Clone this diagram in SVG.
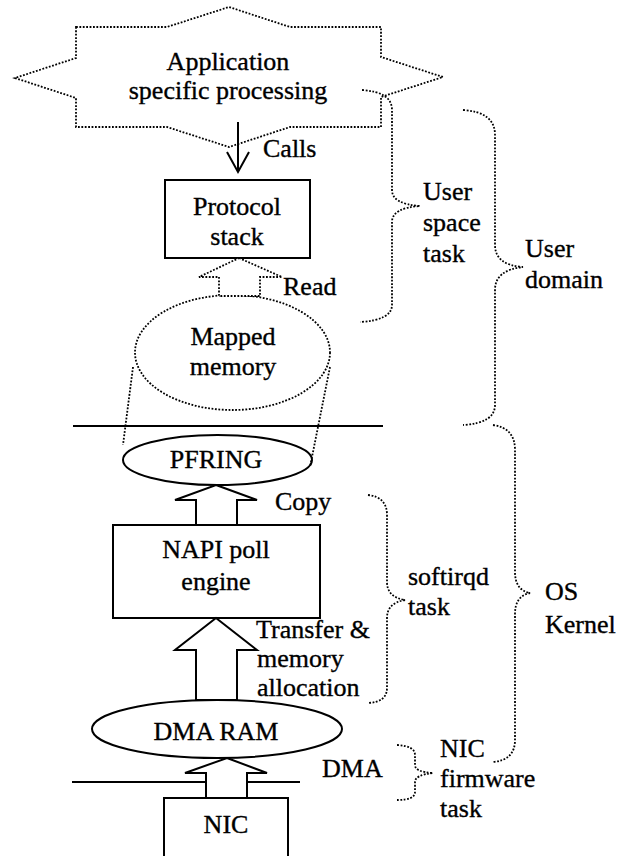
<svg xmlns="http://www.w3.org/2000/svg" width="630" height="856" viewBox="0 0 630 856">
  <style>
    text { font-family: "Liberation Serif", "Times New Roman", serif; font-size: 26px; fill: #000; stroke: #000; stroke-width: 0.35; }
    .c { text-anchor: middle; }
    .solid { fill: #fff; stroke: #000; stroke-width: 2; }
    .dot { fill: none; stroke: #000; stroke-width: 1.8; stroke-dasharray: 1.8 1.6; }
    .dotw { fill: #fff; stroke: #000; stroke-width: 1.8; stroke-dasharray: 1.8 1.6; }
    .line { fill: none; stroke: #000; stroke-width: 2; }
  </style>

  <!-- domain boundaries -->
  <g id="boundaries">
    <line class="line" x1="73" y1="426" x2="383" y2="426"/>
    <line class="line" x1="72" y1="782" x2="300" y2="782"/>
  </g>

  <!-- application cloud -->
  <g id="application">
    <polygon class="dotw" points="76,27 167,27 229,7 290,27 381,27 381,57 443,77 381,97 381,127 290,127 229,147 167,127 76,127 76,98 15,78 76,58"/>
    <text class="c" x="228" y="70">Application</text>
    <text class="c" x="228" y="99">specific processing</text>
  </g>

  <!-- protocol stack -->
  <g id="protocol-stack">
    <rect class="solid" x="165" y="180" width="145" height="78"/>
    <text class="c" x="237" y="215">Protocol</text>
    <text class="c" x="237" y="245">stack</text>
  </g>

  <!-- mapped memory -->
  <g id="mapped-memory">
    <ellipse class="dotw" cx="232.5" cy="352.5" rx="97.5" ry="57.5"/>
    <text class="c" x="233" y="345">Mapped</text>
    <text class="c" x="233" y="375">memory</text>
  </g>

  <!-- PF_RING buffer -->
  <g id="pfring">
    <ellipse class="solid" cx="217.5" cy="460" rx="94.5" ry="25"/>
    <text class="c" x="216" y="468">PFRING</text>
  </g>

  <!-- NAPI poll engine -->
  <g id="napi">
    <rect class="solid" x="113" y="525" width="207" height="93"/>
    <text class="c" x="216" y="558">NAPI poll</text>
    <text class="c" x="216" y="590">engine</text>
  </g>

  <!-- DMA RAM -->
  <g id="dma-ram">
    <ellipse class="solid" cx="217" cy="729" rx="125" ry="29"/>
    <text class="c" x="216" y="740">DMA RAM</text>
  </g>

  <!-- NIC -->
  <g id="nic">
    <path class="solid" d="M164,860 L164,798 L288,798 L288,860"/>
    <text class="c" x="226" y="833">NIC</text>
  </g>

  <!-- connectors -->
  <g id="connectors">
    <!-- calls -->
    <line class="line" x1="238" y1="122" x2="238" y2="172"/>
    <polyline class="line" points="227,152 238,172 249,152"/>
    <text x="263" y="157">Calls</text>

    <!-- read -->
    <polygon class="dotw" points="239,258 282,277 260,277 260,296 219,296 219,277 199,277"/>
    <text x="283" y="295">Read</text>

    <!-- mapping projection -->
    <line class="dot" x1="133" y1="367" x2="123" y2="445"/>
    <line class="dot" x1="330" y1="367" x2="310" y2="467"/>

    <!-- copy -->
    <polygon class="solid" points="216,485 257,500 237,500 237,525 196,525 196,500 175,500"/>
    <text x="275" y="510">Copy</text>

    <!-- transfer & memory allocation -->
    <polygon class="solid" points="216,618 257,650 237,650 237,700 196,700 196,650 175,650"/>
    <text x="256" y="638">Transfer &amp;</text>
    <text x="257" y="667">memory</text>
    <text x="257" y="696">allocation</text>

    <!-- DMA -->
    <polygon class="solid" points="227,758 267,773 247,773 247,798 206,798 206,773 185,773"/>
    <text x="322" y="777">DMA</text>
  </g>

  <!-- scope braces -->
  <g id="brace-user-space">
    <path class="dot" d="M362,90 Q392,92 392,110 L392,190 Q392,204 420,206 Q392,208 392,222 L392,305 Q392,320 360,322"/>
    <text x="423" y="200">User</text>
    <text x="423" y="231">space</text>
    <text x="423" y="262">task</text>
  </g>
  <g id="brace-user-domain">
    <path class="dot" d="M463,110 Q495,112 495,135 L495,245 Q495,265 523,267 Q495,270 495,290 L495,405 Q495,423 463,425"/>
    <text x="525" y="257">User</text>
    <text x="525" y="288">domain</text>
  </g>
  <g id="brace-softirqd">
    <path class="dot" d="M368,495 Q387,497 387,515 L387,582 Q387,597 405,600 Q387,603 387,618 L387,688 Q387,702 368,703"/>
    <text x="408" y="585">softirqd</text>
    <text x="408" y="615">task</text>
  </g>
  <g id="brace-kernel">
    <path class="dot" d="M493,425 Q515,428 515,450 L515,572 Q515,590 530,593 Q515,596 515,614 L515,740 Q515,760 493,762"/>
    <text x="545" y="600">OS</text>
    <text x="545" y="633">Kernel</text>
  </g>
  <g id="brace-nic-firmware">
    <path class="dot" d="M397,745 Q415,746 415,755 L415,765 Q415,772 433,773 Q415,775 415,782 L415,792 Q415,800 397,800"/>
    <text x="440" y="757">NIC</text>
    <text x="440" y="787">firmware</text>
    <text x="440" y="817">task</text>
  </g>
</svg>
